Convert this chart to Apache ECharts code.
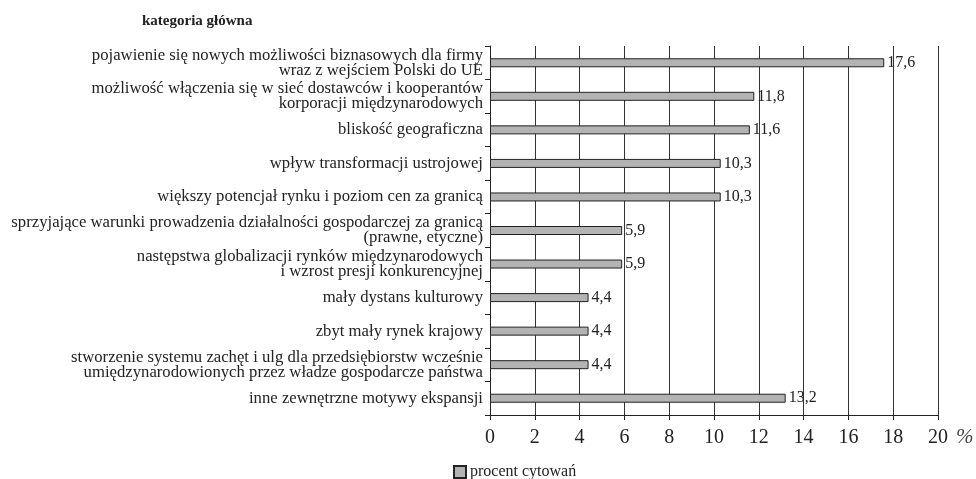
<!DOCTYPE html>
<html><head><meta charset="utf-8">
<script src="https://cdn.jsdelivr.net/npm/echarts@6/dist/echarts.min.js"></script>
<style>html,body{margin:0;padding:0;background:#fff}#c{width:976px;height:479px}</style>
</head><body><div id="c"></div>
<script>
const categories = [
  "pojawienie się nowych możliwości biznasowych dla firmy\nwraz z wejściem Polski do UE",
  "możliwość włączenia się w sieć dostawców i kooperantów\nkorporacji międzynarodowych",
  "bliskość geograficzna",
  "wpływ transformacji ustrojowej",
  "większy potencjał rynku i poziom cen za granicą",
  "sprzyjające warunki prowadzenia działalności gospodarczej za granicą\n(prawne, etyczne)",
  "następstwa globalizacji rynków międzynarodowych\ni wzrost presji konkurencyjnej",
  "mały dystans kulturowy",
  "zbyt mały rynek krajowy",
  "stworzenie systemu zachęt i ulg dla przedsiębiorstw wcześnie\numiędzynarodowionych przez władze gospodarcze państwa",
  "inne zewnętrzne motywy ekspansji"
];
const values = [17.6, 11.8, 11.6, 10.3, 10.3, 5.9, 5.9, 4.4, 4.4, 4.4, 13.2];
const seriesName = "procent cytowań";
const title = "kategoria główna";
const serif = "Liberation Serif";

const chart = echarts.init(document.getElementById('c'), null, {renderer: 'canvas'});
chart.setOption({
  animation: false,
  backgroundColor: '#fff',
  title: {
    text: title, left: 137, top: 9,
    textStyle: {fontFamily: serif, fontSize: 15, fontWeight: 'bold', color: '#222'}
  },
  legend: {
    data: [seriesName], left: 448, top: 459, itemWidth: 12, itemHeight: 12, itemGap: 4,
    icon: 'rect',
    textStyle: {fontFamily: serif, fontSize: 16, color: '#222', padding: [0,0,0,-1]}
  },
  grid: {left: 490, right: 38, top: 46, bottom: 64, containLabel: false},
  xAxis: {
    type: 'value', min: 0, max: 20, interval: 2,
    axisLine: {show: true, lineStyle: {color: '#222', width: 1}},
    axisTick: {show: true, length: 5, lineStyle: {color: '#222'}},
    axisLabel: {fontFamily: serif, fontSize: 20, color: '#222', margin: 13},
    splitLine: {show: true, lineStyle: {color: '#333', width: 1}}
  },
  yAxis: {
    type: 'category', data: categories, inverse: true,
    axisLine: {show: true, lineStyle: {color: '#222', width: 1}},
    axisTick: {show: true, length: 5, lineStyle: {color: '#222'}},
    axisLabel: {fontFamily: serif, fontSize: 16.7, color: '#222', margin: 7, lineHeight: 15}
  },
  graphic: [{
    type: 'text', left: 956, top: 427,
    style: {text: '%', font: 'italic 21px "Liberation Serif"', fill: '#444'}
  }],
  series: [{
    name: seriesName, type: 'bar', data: values, barWidth: 9,
    itemStyle: {color: '#b3b3b3', borderColor: '#222', borderWidth: 1},
    label: {
      show: true, position: 'right', distance: 3,
      fontFamily: serif, fontSize: 16, color: '#222',
      formatter: p => String(p.value).replace('.', ',')
    }
  }]
});
</script></body></html>
